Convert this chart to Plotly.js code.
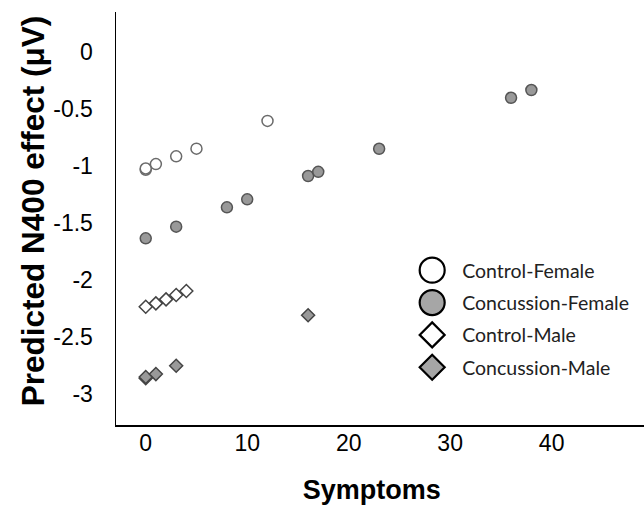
<!DOCTYPE html>
<html>
<head>
<meta charset="utf-8">
<script src="https://cdn.plot.ly/plotly-3.0.1.min.js"></script>
<style>
html, body { margin: 0; padding: 0; background: #fff; }
#chart { width: 644px; height: 506px; }
</style>
</head>
<body>
<div id="chart"></div>
<script>
// Data
const seriesNames = ["Control-Female", "Concussion-Female", "Control-Male", "Concussion-Male"];

const symptomsControlFemale = [0, 0, 1, 3, 5, 12];
const n400ControlFemale = [-1.036, -1.025, -0.986, -0.918, -0.851, -0.607];

const symptomsConcussionFemale = [0, 3, 8, 10, 16, 17, 23, 36, 38];
const n400ConcussionFemale = [-1.638, -1.536, -1.366, -1.296, -1.091, -1.054, -0.852, -0.404, -0.336];

const symptomsControlMale = [0, 1, 2, 3, 4];
const n400ControlMale = [-2.239, -2.209, -2.174, -2.136, -2.101];

const symptomsConcussionMale = [0, 0, 1, 3, 16];
const n400ConcussionMale = [-2.866, -2.856, -2.830, -2.757, -2.314];

const xTickVals = [0, 10, 20, 30, 40];
const yTickVals = [0, -0.5, -1, -1.5, -2, -2.5, -3];
const yTickText = ["0", "-0.5", "-1", "-1.5", "-2", "-2.5", "-3"];

const xTitle = "Symptoms";
const yTitle = "Predicted N400 effect (μV)";

function makeTrace(x, y, name, symbol, fill, lineColor, size) {
  return {
    type: "scatter",
    mode: "markers",
    x: x, y: y, name: name,
    legendgroup: name,
    marker: { symbol: symbol, size: size, color: fill, line: { color: lineColor, width: 1.5 } },
    hoverinfo: "x+y+name"
  };
}

const traces = [
  makeTrace(symptomsControlFemale, n400ControlFemale, seriesNames[0], "circle", "#ffffff", "#6b6b6b", 11),
  makeTrace(symptomsConcussionFemale, n400ConcussionFemale, seriesNames[1], "circle", "#999999", "#555555", 11),
  makeTrace(symptomsControlMale, n400ControlMale, seriesNames[2], "diamond", "#ffffff", "#444444", 10),
  makeTrace(symptomsConcussionMale, n400ConcussionMale, seriesNames[3], "diamond", "#999999", "#444444", 10)
];

const layout = {
  width: 644, height: 506,
  margin: { l: 116, r: 0, t: 12, b: 81 },
  paper_bgcolor: "#ffffff",
  plot_bgcolor: "#ffffff",
  showlegend: true,
  legend: {
    x: 0.542, xanchor: "left",
    y: 0.4213, yanchor: "top",
    itemwidth: 50,
    tracegroupgap: 4,
    traceorder: "grouped",
    font: { family: "Lato, 'Open Sans', sans-serif", size: 19.5, color: "#222222" },
    bgcolor: "rgba(0,0,0,0)"
  },
  xaxis: {
    range: [-2.93, 49.1],
    tickvals: xTickVals,
    ticktext: xTickVals.map(String),
    showgrid: false, zeroline: false,
    showline: true, linecolor: "#000000", linewidth: 1.5,
    ticks: "",
    ticklabelstandoff: 0,
    tickfont: { family: "'Liberation Sans', Arial, sans-serif", size: 23, color: "#000000" },
    title: { text: xTitle, font: { family: "'Liberation Sans', Arial, sans-serif", size: 27, color: "#000000", weight: "bold" } }
  },
  yaxis: {
    range: [-3.277, 0.349],
    tickvals: yTickVals,
    ticktext: yTickText,
    showgrid: false, zeroline: false,
    showline: true, linecolor: "#000000", linewidth: 1.5,
    ticks: "",
    ticklabelstandoff: 0,
    tickfont: { family: "'Liberation Sans', Arial, sans-serif", size: 23, color: "#000000" },
    title: { text: yTitle, font: { family: "'Liberation Sans', Arial, sans-serif", size: 31.5, color: "#000000", weight: "bold" } }
  },
  font: { family: "'Liberation Sans', Arial, sans-serif" }
};

const Y_LABEL_RIGHT = 93;   // right edge of y tick labels (px)
const X_LABEL_CY = 443;     // vertical centre of x tick labels (px)

function measure(gd) {
  const host = gd.getBoundingClientRect();
  let maxRight = -1e9;
  gd.querySelectorAll(".ytick text").forEach(function (t) {
    const r = t.getBoundingClientRect();
    maxRight = Math.max(maxRight, r.right - host.left);
  });
  let cy = 0, n = 0;
  gd.querySelectorAll(".xtick text").forEach(function (t) {
    const r = t.getBoundingClientRect();
    cy += r.top - host.top + r.height / 2; n++;
  });
  return { yRight: maxRight, xCy: n ? cy / n : X_LABEL_CY };
}

function moveTitle(gd, selector, cx, cy) {
  const el = gd.querySelector(selector);
  if (!el) return;
  const r = el.getBoundingClientRect();
  const host = gd.getBoundingClientRect();
  const dx = cx - (r.left - host.left + r.width / 2);
  const dy = cy - (r.top - host.top + r.height / 2);
  const t = el.getAttribute("transform") || "";
  el.setAttribute("transform", "translate(" + dx + "," + dy + ") " + t);
}

function shiftGroup(el, dx, dy) {
  const t = el.getAttribute("transform") || "";
  el.setAttribute("transform", "translate(" + dx + "," + dy + ") " + t);
}

function finish(gd) {
  // residual correction of tick-label placement
  const m = measure(gd);
  const dxY = Y_LABEL_RIGHT - m.yRight;
  const dyX = X_LABEL_CY - m.xCy;
  if (Math.abs(dxY) > 0.5) gd.querySelectorAll(".ytick text").forEach(function (t) { shiftGroup(t, dxY, 0); });
  if (Math.abs(dyX) > 0.5) gd.querySelectorAll(".xtick text").forEach(function (t) { shiftGroup(t, 0, dyX); });

  const pts = gd.querySelectorAll(".legend .legendpoints path.scatterpts");
  pts.forEach(function (p) {
    const bb = p.getBBox();
    const s = 25 / Math.max(bb.width, 1);
    const t = p.getAttribute("transform") || "";
    p.setAttribute("transform", t + " scale(" + s + ")");
    p.style.stroke = "#000000";
    p.style.strokeWidth = (2.2 / s) + "px";
    if (p.style.fill && p.style.fill !== "rgb(255, 255, 255)") p.style.fill = "#a6a6a6";
  });
  moveTitle(gd, ".g-xtitle text", 371.7, 490);
  moveTitle(gd, ".g-ytitle text", 32.5, 211);
}

Plotly.newPlot("chart", traces, layout, { displayModeBar: false, staticPlot: true }).then(function (gd) {
  const m = measure(gd);
  const ySO = Math.round(m.yRight - Y_LABEL_RIGHT);
  const xSO = Math.round(X_LABEL_CY - m.xCy);
  return Plotly.relayout(gd, { "yaxis.ticklabelstandoff": ySO, "xaxis.ticklabelstandoff": xSO });
}).then(function () {
  finish(document.getElementById("chart"));
});
</script>
</body>
</html>
